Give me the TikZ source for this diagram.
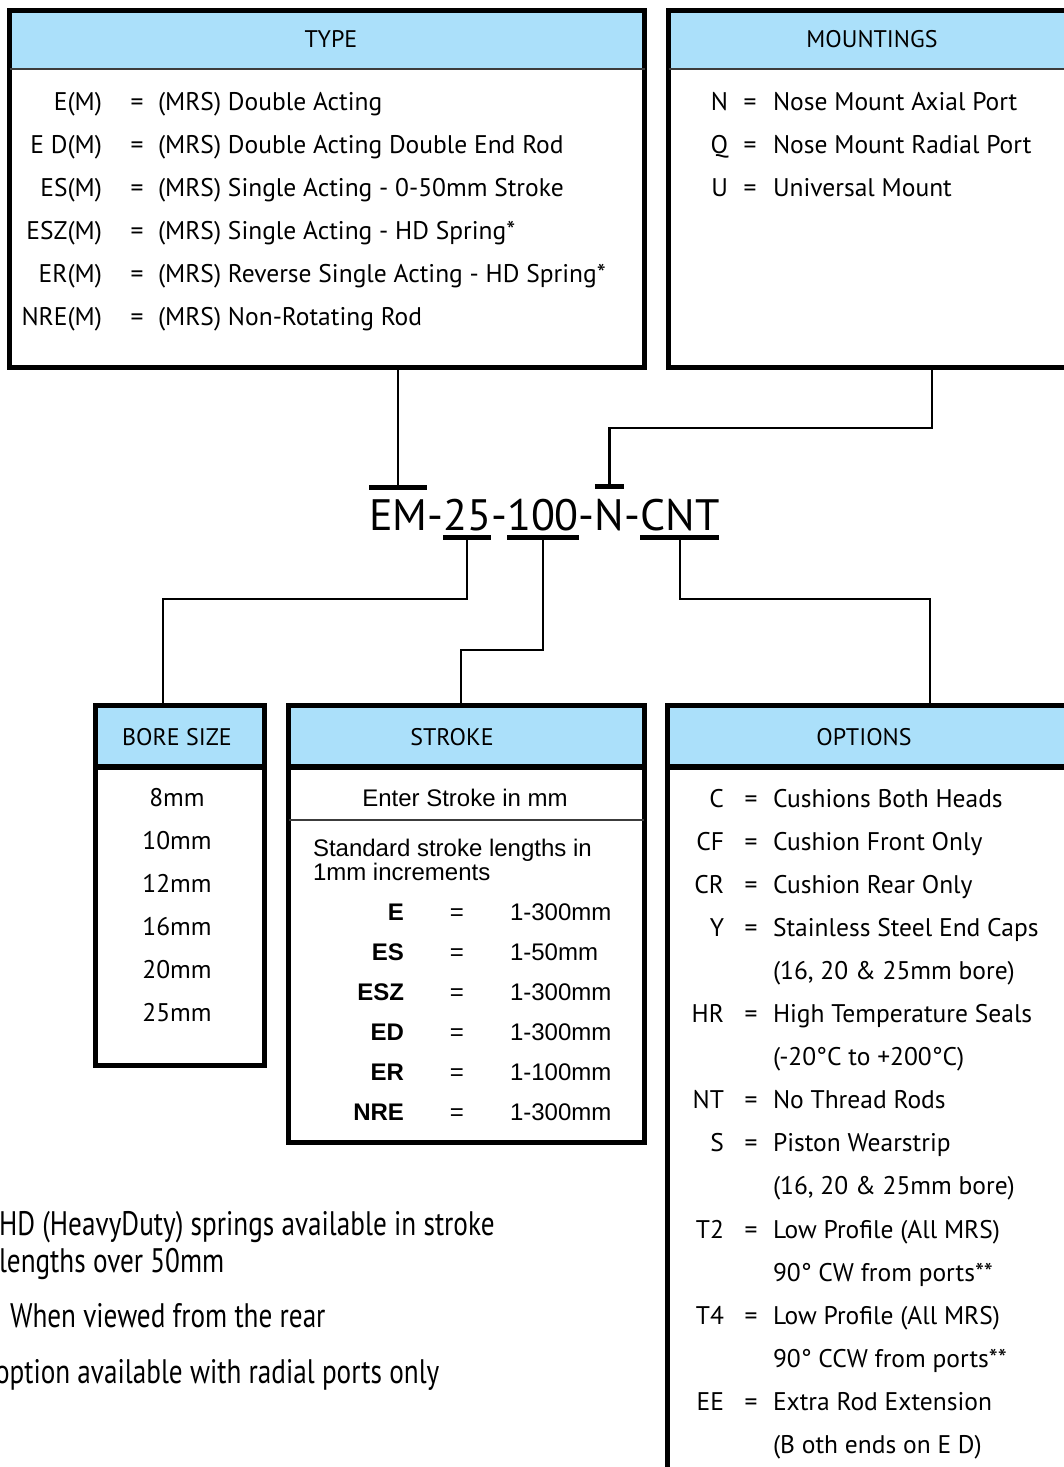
\documentclass[tikz,border=0pt]{standalone}
\usepackage{fontspec}
\setmainfont{PT Sans}
\setsansfont{Liberation Sans}
\newfontfamily\notefont[FakeStretch=0.8]{PT Sans}
\usetikzlibrary{positioning}
\definecolor{headblue}{RGB}{171,224,250}
\definecolor{rulegray}{RGB}{60,60,60}

\begin{document}
\begin{tikzpicture}[x=1pt, y=-1pt,
    every node/.style={font=\fontsize{25.5}{43}\selectfont, inner sep=0pt, outer sep=0pt},
    panel/.style={draw, line width=5pt, anchor=north west},
    headbar/.style={fill=headblue, anchor=north west},
    headtxt/.style={font=\fontsize{24}{28}\selectfont},
    codes/.style={align=right, anchor=base east},
    eqs/.style={align=center, anchor=base},
    descr/.style={align=left, anchor=base west},
    helv/.style={font=\sffamily\fontsize{24}{24}\selectfont},
    tbl/.style={font=\sffamily\fontsize{24}{40}\selectfont},
    tblbf/.style={font=\sffamily\bfseries\fontsize{24}{40}\selectfont},
    optrow/.style={font=\fontsize{25.5}{43.1}\selectfont},
    pn/.style={font=\fontsize{44}{50}\selectfont, anchor=base west},
    bar/.style={line width=5pt},
    wire/.style={line width=2.5pt},
    rule/.style={line width=2pt, draw=rulegray},
    thickrule/.style={line width=5.5pt},
    note/.style={font=\notefont\fontsize{34}{37}\selectfont, align=left, anchor=base west}]

  \useasboundingbox (0,0) rectangle (1064,1467);

  % top panels
  \node[headbar, minimum width=635pt, minimum height=58.5pt] (typeh) at (9.5,10.5) {};
  \node[panel, minimum width=635pt, minimum height=356.5pt] (type) at (9.5,10.5) {};
  \draw[rule] (typeh.south west) -- (typeh.south east);
  \node[headbar, minimum width=407pt, minimum height=58.5pt] (mounth) at (668.5,10.5) {};
  \node[panel, minimum width=407pt, minimum height=356.5pt] (mount) at (668.5,10.5) {};
  \draw[rule] (mounth.south west) -- (mounth.south east);

  \node[headtxt] (typet) at (331,39) {TYPE};
  \node[headtxt] (mountt) at (872,39) {MOUNTINGS};

  \node[codes] (typecodes) at (102,325) {E(M)\\E D(M)\\ES(M)\\ESZ(M)\\ER(M)\\NRE(M)};
  \node[eqs] (typeeq) at (137,325) {=\\=\\=\\=\\=\\=};
  \node[descr] (typedesc) at (158,325) {(MRS) Double Acting\\(MRS) Double Acting Double End Rod\\(MRS) Single Acting - 0-50mm Stroke\\(MRS) Single Acting - HD Spring*\\(MRS) Reverse Single Acting - HD Spring*\\(MRS) Non-Rotating Rod};

  \node[codes] (mountcodes) at (728,196) {N\\Q\\U};
  \node[eqs] (mounteq) at (750,196) {=\\=\\=};
  \node[descr] (mountdesc) at (773,196) {Nose Mount Axial Port\\Nose Mount Radial Port\\Universal Mount};

  % part number
  \node[pn] (cEM) at (369,530) {EM};
  \node[pn, base right=0pt of cEM] (d1) {-};
  \node[pn, base right=0pt of d1] (c25) {25};
  \node[pn, base right=0pt of c25] (d2) {-};
  \node[pn, base right=0pt of d2] (c100) {100};
  \node[pn, base right=0pt of c100] (d3) {-};
  \node[pn, base right=0pt of d3] (cN) {N};
  \node[pn, base right=0pt of cN] (d4) {-};
  \node[pn, base right=0pt of d4] (cCNT) {CNT};

  \draw[bar] ([yshift=12pt]cEM.north west) -- ([yshift=12pt]cEM.north east);
  \draw[bar] ([yshift=12pt]cN.north west) -- ([yshift=12pt]cN.north east);
  \draw[bar] ([yshift=-7pt]c25.base west) -- ([yshift=-7pt]c25.base east);
  \draw[bar] ([yshift=-7pt]c100.base west) -- ([yshift=-7pt]c100.base east);
  \draw[bar] ([yshift=-7pt]cCNT.base west) -- ([yshift=-7pt]cCNT.base east);
  \coordinate (tE) at ([yshift=12pt]cEM.north);
  \coordinate (tN) at ([yshift=12pt]cN.north);
  \coordinate (t25) at ([yshift=-7pt]c25.base);
  \coordinate (t100) at ([yshift=-7pt]c100.base);
  \coordinate (tCNT) at ([yshift=-7pt]cCNT.base);

  % bottom panels
  \node[headbar, minimum width=169pt, minimum height=61.5pt] (boreh) at (95,705.5) {};
  \node[panel, minimum width=169pt, minimum height=360pt] (bore) at (95,705.5) {};
  \draw[thickrule] (boreh.south west) -- (boreh.south east);
  \node[headbar, minimum width=355.5pt, minimum height=61.5pt] (strokeh) at (288.5,705.5) {};
  \node[panel, minimum width=355.5pt, minimum height=437pt] (stroke) at (288.5,705.5) {};
  \draw[thickrule] (strokeh.south west) -- (strokeh.south east);
  \draw[rule] ([yshift=-53pt]strokeh.south west) -- ([yshift=-53pt]strokeh.south east);
  \node[headbar, minimum width=407.5pt, minimum height=61.5pt] (optsh) at (667.5,705.5) {};
  \node[panel, minimum width=407.5pt, minimum height=784.5pt] (opts) at (667.5,705.5) {};
  \draw[thickrule] (optsh.south west) -- (optsh.south east);

  \node[headtxt] (boret) at (177,737) {BORE SIZE};
  \node[headtxt] (stroket) at (452,737) {STROKE};
  \node[headtxt] (optst) at (864,737) {OPTIONS};

  \node[align=center, anchor=base] (boresz) at (177,1021) {8mm\\10mm\\12mm\\16mm\\20mm\\25mm};

  \node[helv, anchor=base] (enter) at (465,806) {Enter Stroke in mm};
  \node[helv, align=left, anchor=base west] (std) at (313,880) {Standard stroke lengths in\\1mm increments};
  \node[tblbf, codes] (strokecodes) at (404,1120) {E\\ES\\ESZ\\ED\\ER\\NRE};
  \node[tbl, eqs] (strokeeq) at (457,1120) {=\\=\\=\\=\\=\\=};
  \node[tbl, descr] (strokelen) at (510,1120) {1-300mm\\1-50mm\\1-300mm\\1-300mm\\1-100mm\\1-300mm};

  \node[optrow, codes] (optcodes) at (724,1453.5) {C\\CF\\CR\\Y\\\mbox{}\\HR\\\mbox{}\\NT\\S\\\mbox{}\\T2\\\mbox{}\\T4\\\mbox{}\\EE\\\mbox{}};
  \node[optrow, eqs] (opteq) at (751,1453.5) {=\\=\\=\\=\\\mbox{}\\=\\\mbox{}\\=\\=\\\mbox{}\\=\\\mbox{}\\=\\\mbox{}\\=\\\mbox{}};
  \node[optrow, descr] (optdesc) at (773,1453.5) {Cushions Both Heads\\Cushion Front Only\\Cushion Rear Only\\Stainless Steel End Caps\\(16, 20 \& 25mm bore)\\High Temperature Seals\\(-20°C to +200°C)\\No Thread Rods\\Piston Wearstrip\\(16, 20 \& 25mm bore)\\Low Profile (All MRS)\\90° CW from ports**\\Low Profile (All MRS)\\90° CCW from ports**\\Extra Rod Extension\\(B oth ends on E D)};

  % connectors
  \coordinate (mknee) at (932,428);
  \coordinate (bknee) at (163,599);
  \coordinate (sknee) at (461,650);
  \coordinate (oknee) at (930,599);
  \draw[wire] (type.south -| tE) -- (tE);
  \draw[wire] (mount.south -| mknee) -- (mknee) -| (tN);
  \draw[wire] (t25) |- (bknee) -- (bknee |- bore.north);
  \draw[wire] (t100) |- (sknee) -- (sknee |- stroke.north);
  \draw[wire] (tCNT) |- (oknee) -- (oknee |- opts.north);

  % footnotes
  \node[note] (note1) at (-1,1272) {HD (HeavyDuty) springs available in stroke\\lengths over 50mm};
  \node[note] (note2) at (10,1327) {When viewed from the rear};
  \node[note] (note3) at (-5,1383) {option available with radial ports only};
\end{tikzpicture}
\end{document}
